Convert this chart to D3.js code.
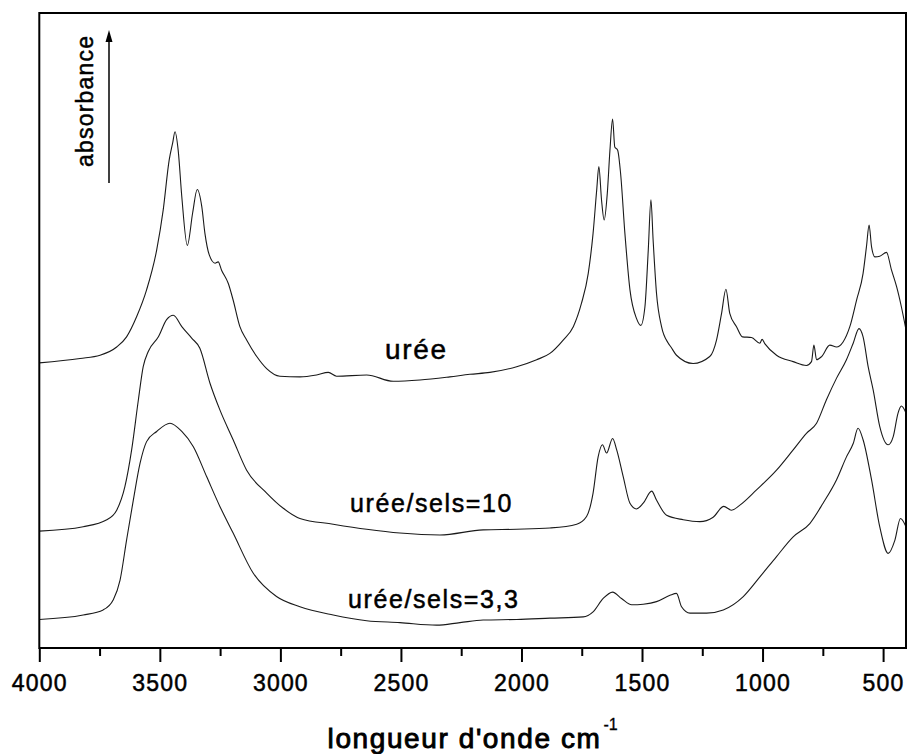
<!DOCTYPE html>
<html><head><meta charset="utf-8">
<script src="https://cdn.jsdelivr.net/npm/d3@7"></script>
<style>
body{margin:0;background:#fff}
svg{display:block}
text{font-family:"Liberation Sans",Arial,Helvetica,sans-serif;fill:#000;stroke:#000;stroke-width:0.5px}
</style>
</head><body>
<svg id="chart" width="909" height="754"></svg>
<script>
// ---- tick labels ----
const majorTicks = [4000, 3500, 3000, 2500, 2000, 1500, 1000, 500];
const minorTicks = [3750, 3250, 2750, 2250, 1750, 1250, 750];

// ---- series: urée ----
const ureeWavenumber = [4000,3831,3748,3679,3638,3596,3555,3513,3486,3461,3447,3437,3424,3409,3386,3364,3345,3326,3313,3295,3271,3258,3244,3216,3196,3168,3140,3098,3057,3002,2919,2850,2801,2767,2642,2532,2421,2297,2214,2131,2020,1937,1882,1827,1785,1751,1723,1703,1688,1679,1668,1657,1644,1633,1622,1613,1601,1589,1571,1550,1523,1505,1488,1474,1463,1454,1440,1419,1391,1380,1357,1288,1219,1191,1170,1152,1136,1108,1083,1046,1011,1002,990,942,873,818,797,787,776,755,721,693,666,638,610,583,569,558,548,534,514,486,465,444,424,405];
const ureeAbsorbance = [44.9,45.6,46.1,47.4,49.0,52.2,56.4,62.7,69.0,76.9,79.5,81.3,78.4,71.1,63.4,68.5,72.2,69.5,65.3,61.9,60.6,60.8,59.5,57.4,54.8,50.6,48.5,45.9,44.0,42.8,42.7,43.0,43.4,42.8,43.0,42.0,42.2,42.7,43.1,43.4,44.3,45.4,46.4,48.5,50.6,54.3,59.0,65.3,72.1,75.8,70.6,67.4,71.6,78.4,83.3,78.9,78.4,74.8,65.3,56.4,51.9,50.8,53.7,62.7,70.6,64.3,55.9,50.6,48.0,47.4,46.1,44.8,45.9,48.5,52.7,56.5,52.7,50.6,49.0,48.9,48.0,48.6,47.9,46.1,45.1,44.5,45.1,47.7,45.4,45.9,47.7,47.4,48.2,50.6,54.8,59.0,63.2,66.6,63.2,61.6,61.7,62.3,59.5,56.9,53.7,50.1];

// ---- series: urée/sels=10 ----
const sels10Wavenumber = [4000,3818,3720,3679,3645,3617,3589,3569,3548,3506,3472,3444,3409,3368,3334,3292,3251,3196,3140,3057,2988,2919,2781,2642,2504,2338,2159,2020,1882,1771,1730,1703,1682,1664,1647,1622,1605,1578,1550,1523,1495,1460,1440,1398,1329,1260,1205,1161,1129,1094,1025,942,873,818,776,735,693,652,624,600,583,562,541,514,479,458,438,424,405];
const sels10Absorbance = [18.4,19.1,20.2,21.7,25.4,31.2,39.1,44.3,46.7,49.0,51.7,52.4,50.6,48.8,47.2,41.7,37.5,32.8,28.0,24.4,22.0,20.4,19.5,18.7,18.1,17.8,18.6,18.7,18.9,19.5,20.7,24.4,30.1,32.0,30.7,33.0,31.2,27.0,22.8,21.9,22.8,24.7,23.3,20.9,20.2,19.9,20.6,22.3,21.7,22.5,24.9,28.0,31.2,33.8,35.4,39.1,42.5,45.4,48.0,50.3,49.0,44.3,40.6,34.9,32.0,33.3,37.0,38.1,37.0];

// ---- series: urée/sels=3,3 ----
const sels33Wavenumber = [4000,3818,3735,3693,3665,3638,3610,3582,3555,3513,3458,3409,3361,3306,3251,3196,3113,3016,2919,2781,2642,2504,2352,2255,2159,2020,1882,1744,1703,1661,1622,1585,1543,1495,1440,1384,1357,1336,1301,1232,1163,1080,1011,942,873,804,749,693,652,624,604,583,548,514,479,451,428,405];
const sels33Absorbance = [4.5,5.2,6.0,7.6,10.7,17.0,23.3,29.1,32.5,34.1,35.4,34.1,31.7,27.0,22.3,18.1,11.8,8.1,6.5,5.2,4.3,4.0,3.6,4.0,4.4,4.5,4.7,4.9,5.7,7.8,8.8,7.8,6.8,6.9,7.3,8.3,8.6,6.5,5.5,5.5,6.0,8.1,11.2,14.4,17.5,19.6,22.8,26.5,30.1,32.2,34.6,32.8,26.5,19.1,14.9,17.0,20.4,19.1];

// ---- labels ----
const seriesNames = ["urée", "urée/sels=10", "urée/sels=3,3"];
const xTitle = "longueur d'onde cm";
const xTitleSup = "-1";
const yTitle = "absorbance";

// ---- layout ----
const L = 39.3, R = 906, T = 13, B = 648;
const svg = d3.select("#chart");
const x = d3.scaleLinear().domain([4000, 405]).range([L, R]);
const y = d3.scaleLinear().domain([0, 100]).range([B, T]);

svg.append("defs").append("clipPath").attr("id", "clip")
  .append("rect").attr("x", L).attr("y", T).attr("width", R - L).attr("height", B - T);

const zip = (ws, as) => ws.map((w, i) => ({w, a: as[i]}));
const series = [
  zip(ureeWavenumber, ureeAbsorbance),
  zip(sels10Wavenumber, sels10Absorbance),
  zip(sels33Wavenumber, sels33Absorbance)
];
const line = d3.line().x(d => x(d.w)).y(d => y(d.a)).curve(d3.curveMonotoneX);

svg.append("g").attr("clip-path", "url(#clip)")
  .selectAll("path").data(series).join("path")
  .attr("d", line).attr("fill", "none").attr("stroke", "#1a1a1a").attr("stroke-width", 1.1);

// frame
svg.append("rect").attr("x", L).attr("y", T).attr("width", R - L).attr("height", B - T)
  .attr("fill", "none").attr("stroke", "#000").attr("stroke-width", 2);

// minor ticks
svg.append("g").attr("transform", `translate(0,${B})`)
  .call(d3.axisBottom(x).tickValues(minorTicks).tickSize(8).tickFormat(""))
  .call(g => g.select(".domain").remove())
  .call(g => g.selectAll("line").attr("stroke", "#000").attr("stroke-width", 2));

// major ticks
svg.append("g").attr("transform", `translate(0,${B})`)
  .call(d3.axisBottom(x).tickValues(majorTicks).tickSize(14).tickPadding(13).tickFormat(d3.format("d")))
  .call(g => g.select(".domain").remove())
  .call(g => g.selectAll("line").attr("stroke", "#000").attr("stroke-width", 2))
  .call(g => g.selectAll("text").attr("fill", "#000").attr("stroke", "#000").attr("stroke-width", 0.6)
      .style("font-family", '"Liberation Sans",Arial,sans-serif')
      .style("font-size", "23px").style("letter-spacing", "1.2px"));

// x title
const xt = svg.append("text").attr("x", (L + R) / 2).attr("y", 748)
  .attr("text-anchor", "middle").style("font-size", "28px").style("stroke-width", "0.9px").style("letter-spacing", "1.6px");
xt.append("tspan").text(xTitle);
xt.append("tspan").attr("dy", -18).attr("dx", 2).style("font-size", "16px").style("stroke-width", "0.3px").style("letter-spacing", "0px").text(xTitleSup);

// y title + arrow
svg.append("text").attr("transform", "translate(93,167) rotate(-90)")
  .style("font-size", "23px").style("letter-spacing", "1.2px").text(yTitle);
svg.append("line").attr("x1", 109).attr("x2", 109).attr("y1", 183).attr("y2", 40)
  .attr("stroke", "#000").attr("stroke-width", 1.5);
svg.append("path").attr("d", "M109,30 L105.5,42 L112.5,42 Z").attr("fill", "#000");

// series labels
svg.append("text").attr("x", 385).attr("y", 359).style("font-size", "28px").style("letter-spacing", "1.7px").text(seriesNames[0]);
svg.append("text").attr("x", 350).attr("y", 511.7).style("font-size", "25px").style("letter-spacing", "1.6px").text(seriesNames[1]);
svg.append("text").attr("x", 348).attr("y", 608).style("font-size", "25px").style("letter-spacing", "1.6px").text(seriesNames[2]);
</script>
</body></html>
